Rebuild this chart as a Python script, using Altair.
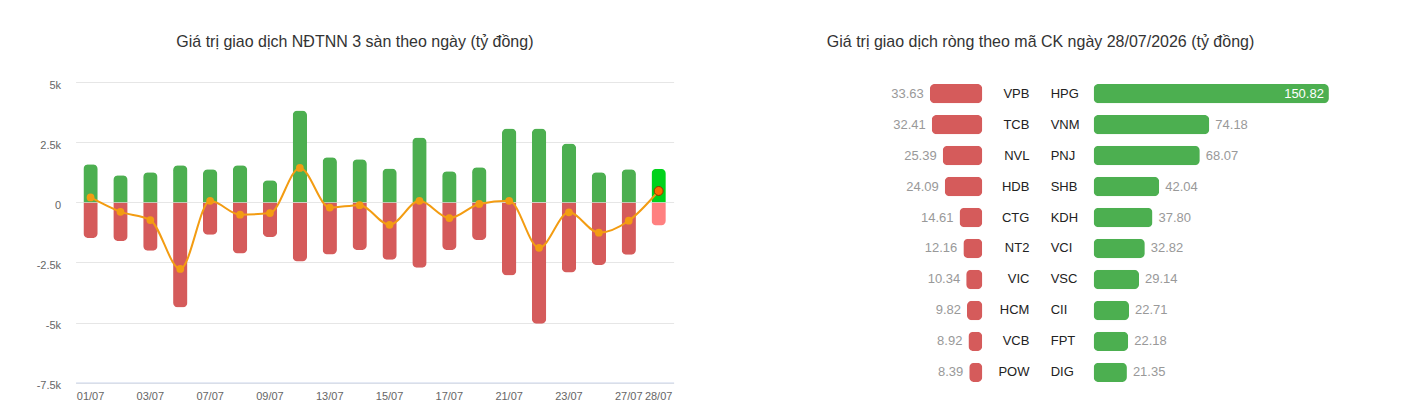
import altair as alt
import pandas as pd

# ---------------- data ----------------
dates = ['01/07', '02/07', '03/07', '06/07', '07/07', '08/07', '09/07', '10/07', '13/07', '14/07',
         '15/07', '16/07', '17/07', '20/07', '21/07', '22/07', '23/07', '24/07', '27/07', '28/07']
buy = [1590, 1130, 1260, 1550, 1380, 1550, 930, 3830, 1880, 1800,
       1420, 2710, 1300, 1470, 3080, 3080, 2460, 1260, 1380, 1410]
sell = [1480, 1600, 2010, 4370, 1340, 2130, 1440, 2460, 2170, 1980,
        2390, 2720, 1980, 1560, 3040, 5050, 2920, 2600, 2180, 960]
net = [210, -390, -730, -2770, 70, -510, -440, 1440, -210, -110,
       -930, 70, -650, -60, 70, -1890, -410, -1260, -760, 480]
x_labels = ['01/07', '03/07', '07/07', '09/07', '13/07', '15/07', '17/07', '21/07', '23/07', '27/07', '28/07']
y_ticks = [-7500, -5000, -2500, 0, 2500, 5000]

sell_codes = ['VPB', 'TCB', 'NVL', 'HDB', 'CTG', 'NT2', 'VIC', 'HCM', 'VCB', 'POW']
sell_vals = [33.63, 32.41, 25.39, 24.09, 14.61, 12.16, 10.34, 9.82, 8.92, 8.39]
buy_codes = ['HPG', 'VNM', 'PNJ', 'SHB', 'KDH', 'VCI', 'VSC', 'CII', 'FPT', 'DIG']
buy_vals = [150.82, 74.18, 68.07, 42.04, 37.80, 32.82, 29.14, 22.71, 22.18, 21.35]

title_left = "Giá trị giao dịch NĐTNN 3 sàn theo ngày (tỷ đồng)"
title_right = "Giá trị giao dịch ròng theo mã CK ngày 28/07/2026 (tỷ đồng)"

# ---------------- styles ----------------
FONT = "Liberation Sans"
GREEN = "#4caf50"
RED = "#d55b5b"
LAST_GREEN = "#00d21c"
LAST_RED = "#ff8080"
ORANGE = "#f39c12"
GRID = "#e6e6e6"

last_expr = f"datum.date == '{dates[-1]}'"

df = pd.DataFrame({"date": dates, "buy": buy, "sell": sell, "net": net})

x_axis = alt.Axis(values=x_labels, labelAngle=0, title=None, ticks=False,
                  domainColor="#ccd6eb", domainWidth=1, labelColor="#666666",
                  labelFontSize=11, labelFont=FONT, labelPadding=8, offset=-5.5,
                  grid=False)
x_scale = alt.Scale(paddingInner=0.52, paddingOuter=0.26)
yscale = alt.Scale(domain=[-7729, 5187], nice=False, zero=False)
y_axis = alt.Axis(values=y_ticks, title=None, ticks=False, domain=False, grid=True,
                  gridColor=GRID, labelColor="#666666", labelFontSize=11, labelFont=FONT,
                  labelPadding=15, labelOffset=3,
                  labelExpr="datum.value == 0 ? '0' : (datum.value / 1000) + 'k'")


def X():
    return alt.X("date:N", sort=dates, scale=x_scale, axis=x_axis)


def Y(field):
    return alt.Y(field, scale=yscale, axis=y_axis)


base = alt.Chart(df)

green_bars = base.mark_bar(cornerRadiusTopLeft=5, cornerRadiusTopRight=5).encode(
    x=X(), y=Y("buy:Q"),
    color=alt.condition(last_expr, alt.value(LAST_GREEN), alt.value(GREEN)),
)
red_bars = base.transform_calculate(neg_sell="-datum.sell").mark_bar(
    cornerRadiusBottomLeft=5, cornerRadiusBottomRight=5).encode(
    x=X(), y=Y("neg_sell:Q"),
    color=alt.condition(last_expr, alt.value(LAST_RED), alt.value(RED)),
)
net_line = base.mark_line(interpolate="monotone", color=ORANGE, strokeWidth=2).encode(
    x=X(), y=Y("net:Q"))
net_points = base.transform_filter(f"!({last_expr})").mark_circle(
    size=60, opacity=1, color=ORANGE).encode(x=X(), y=Y("net:Q"))
last_point = base.transform_filter(last_expr).mark_point(
    filled=True, size=80, opacity=1, fill="#ff6a00", stroke="#8a3b00", strokeWidth=1,
    shape="circle").encode(x=X(), y=Y("net:Q"))

left = alt.layer(green_bars, red_bars, net_line, net_points, last_point).properties(
    width=598, height=310,
    title=alt.Title(title_left, font=FONT, fontSize=16, fontWeight="normal", color="#333333",
                    anchor="middle", frame="group", dx=-19.7, offset=28),
)

# ---------------- right: net by ticker ----------------
sell_df = pd.DataFrame({"code": sell_codes, "value": sell_vals})
buy_df = pd.DataFrame({"code": buy_codes, "value": buy_vals})

row_scale = alt.Scale(paddingInner=0.377, paddingOuter=0.19)

sell_y = alt.Y("code:N", sort=sell_codes, scale=row_scale,
               axis=alt.Axis(orient="right", labelAlign="right", labelPadding=46.6,
                             domain=False, ticks=False, grid=False, title=None,
                             labelFont=FONT, labelFontSize=13, labelColor="#222222"))
sell_x = alt.X("value:Q", scale=alt.Scale(domain=[0, 126.7], reverse=True, nice=False), axis=None)
sell_base = alt.Chart(sell_df)
sell_bars = sell_base.mark_bar(cornerRadius=5, color=RED).encode(x=sell_x, y=sell_y)
sell_text = sell_base.mark_text(align="right", baseline="middle", dx=-6, color="#999999",
                                font=FONT, fontSize=13).encode(
    x=sell_x, y=sell_y, text=alt.Text("value:Q", format=".2f"))
sell_chart = alt.layer(sell_bars, sell_text).properties(width=197.7, height=310)

buy_y = alt.Y("code:N", sort=buy_codes, scale=row_scale,
              axis=alt.Axis(orient="left", labelAlign="left", labelPadding=43.4,
                            domain=False, ticks=False, grid=False, title=None,
                            labelFont=FONT, labelFontSize=13, labelColor="#222222"))
buy_x = alt.X("value:Q", scale=alt.Scale(domain=[0, 150.82], nice=False), axis=None)
buy_base = alt.Chart(buy_df).transform_joinaggregate(maxv="max(value)")
buy_bars = buy_base.mark_bar(cornerRadius=5, color=GREEN).encode(x=buy_x, y=buy_y)
buy_text_out = buy_base.transform_filter("datum.value < datum.maxv").mark_text(
    align="left", baseline="middle", dx=6, color="#999999", font=FONT, fontSize=13).encode(
    x=buy_x, y=buy_y, text=alt.Text("value:Q", format=".2f"))
buy_text_in = buy_base.transform_filter("datum.value >= datum.maxv").mark_text(
    align="right", baseline="middle", dx=-5, color="#ffffff", font=FONT, fontSize=13).encode(
    x=buy_x, y=buy_y, text=alt.Text("value:Q", format=".2f"))
buy_chart = alt.layer(buy_bars, buy_text_out, buy_text_in).properties(
    width=235.3, height=310,
    title=alt.Title(title_right, font=FONT, fontSize=16, fontWeight="normal", color="#333333",
                    anchor="middle", frame="group", dx=-170.7, offset=28),
)

chart = alt.hconcat(left, sell_chart, buy_chart, spacing=111, bounds="flush").properties(
    padding={"left": 27.6, "top": 26, "right": 5, "bottom": 5}
).configure(font=FONT, view=alt.ViewConfig(stroke=None))

chart.save("out.html", embed_options={"renderer": "svg", "actions": False})
